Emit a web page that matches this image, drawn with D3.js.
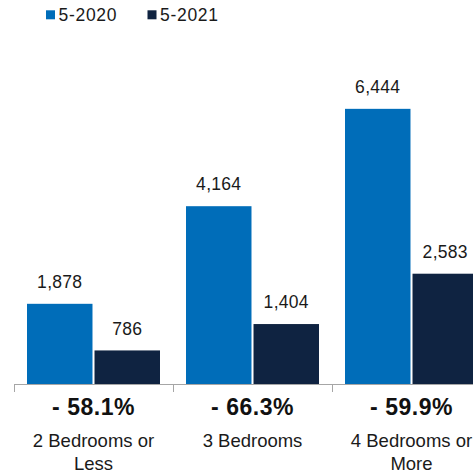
<!DOCTYPE html>
<html>
<head>
<meta charset="utf-8">
<script src="https://cdn.jsdelivr.net/npm/d3@7"></script>
<style>
  html, body { margin: 0; padding: 0; background: #fff; }
  svg { display: block; font-family: "Liberation Sans", Arial, Helvetica, sans-serif; }
</style>
</head>
<body>
<svg id="chart" width="473" height="473"></svg>
<script>
// Home sales by size, May 2020 vs May 2021
const categories = ["2 Bedrooms or Less", "3 Bedrooms", "4 Bedrooms or More"];
const categoryLines = [["2 Bedrooms or", "Less"], ["3 Bedrooms"], ["4 Bedrooms or", "More"]];
const seriesNames = ["5-2020", "5-2021"];
const values2020 = [1878, 4164, 6444];
const values2021 = [786, 1404, 2583];
const changeLabels = ["- 58.1%", "- 66.3%", "- 59.9%"];
const colors = ["#006DB9", "#0F2341"];

const svg = d3.select("#chart");
const baseY = 384;

const x = d3.scaleBand().domain(categories).range([14, 14 + 159 * 3]).paddingInner(0).paddingOuter(0);
const xSub = d3.scaleBand().domain(seriesNames).range([13, 146]).paddingInner(0.03).paddingOuter(0);
const y = d3.scaleLinear().domain([0, 8000]).range([baseY, 42.4]);

const color = d3.scaleOrdinal().domain(seriesNames).range(colors);

const rows = categories.map((c, i) => ({
  cat: c,
  vals: [
    { s: seriesNames[0], v: values2020[i] },
    { s: seriesNames[1], v: values2021[i] }
  ]
}));

const fmt = d3.format(",");

const groups = svg.selectAll("g.cat").data(rows).join("g")
  .attr("class", "cat")
  .attr("transform", d => `translate(${x(d.cat)},0)`);

groups.selectAll("rect").data(d => d.vals).join("rect")
  .attr("x", d => xSub(d.s))
  .attr("y", d => y(d.v))
  .attr("width", xSub.bandwidth())
  .attr("height", d => baseY - y(d.v))
  .attr("fill", d => color(d.s));

groups.selectAll("text.val").data(d => d.vals).join("text")
  .attr("class", "val")
  .attr("x", d => xSub(d.s) + xSub.bandwidth() / 2)
  .attr("y", d => y(d.v) - 15.7)
  .attr("text-anchor", "middle")
  .attr("font-size", 17.5)
  .attr("letter-spacing", 0.3)
  .attr("fill", "#1a1a1a")
  .text(d => fmt(d.v));

// baseline and category separators
svg.append("line")
  .attr("x1", x.range()[0]).attr("x2", x.range()[1])
  .attr("y1", baseY + 0.5).attr("y2", baseY + 0.5)
  .attr("stroke", "#a6a6a6").attr("stroke-width", 1);

svg.selectAll("line.tick").data(categories.concat(["end"])).join("line")
  .attr("class", "tick")
  .attr("x1", (d, i) => x.range()[0] + i * x.step() + 0.5)
  .attr("x2", (d, i) => x.range()[0] + i * x.step() + 0.5)
  .attr("y1", baseY)
  .attr("y2", baseY + 8)
  .attr("stroke", "#a6a6a6").attr("stroke-width", 1);

// percent change labels
svg.selectAll("text.chg").data(categories).join("text")
  .attr("class", "chg")
  .attr("x", d => x(d) + x.bandwidth() / 2)
  .attr("y", 415.3)
  .attr("text-anchor", "middle")
  .attr("font-size", 23)
  .attr("letter-spacing", 0.5)
  .attr("font-weight", "bold")
  .attr("fill", "#111")
  .text((d, i) => changeLabels[i]);

// category labels
const catText = svg.selectAll("text.catlbl").data(categories).join("text")
  .attr("class", "catlbl")
  .attr("x", d => x(d) + x.bandwidth() / 2)
  .attr("y", 447)
  .attr("text-anchor", "middle")
  .attr("font-size", 18.5)
  .attr("fill", "#1a1a1a");
catText.selectAll("tspan").data((d, i) => categoryLines[i]).join("tspan")
  .attr("x", function () { return d3.select(this.parentNode).attr("x"); })
  .attr("dy", (d, i) => i === 0 ? 0 : 23)
  .text(d => d);

// legend
const legendX = [46, 147.5];
const legend = svg.selectAll("g.leg").data(seriesNames).join("g")
  .attr("class", "leg")
  .attr("transform", (d, i) => `translate(${legendX[i]},10.3)`);
legend.append("rect").attr("width", 9).attr("height", 9).attr("fill", d => color(d));
legend.append("text")
  .attr("x", 12.5).attr("y", 11)
  .attr("font-size", 17.5)
  .attr("letter-spacing", 0.7)
  .attr("fill", "#1a1a1a")
  .text(d => d);
</script>
</body>
</html>
